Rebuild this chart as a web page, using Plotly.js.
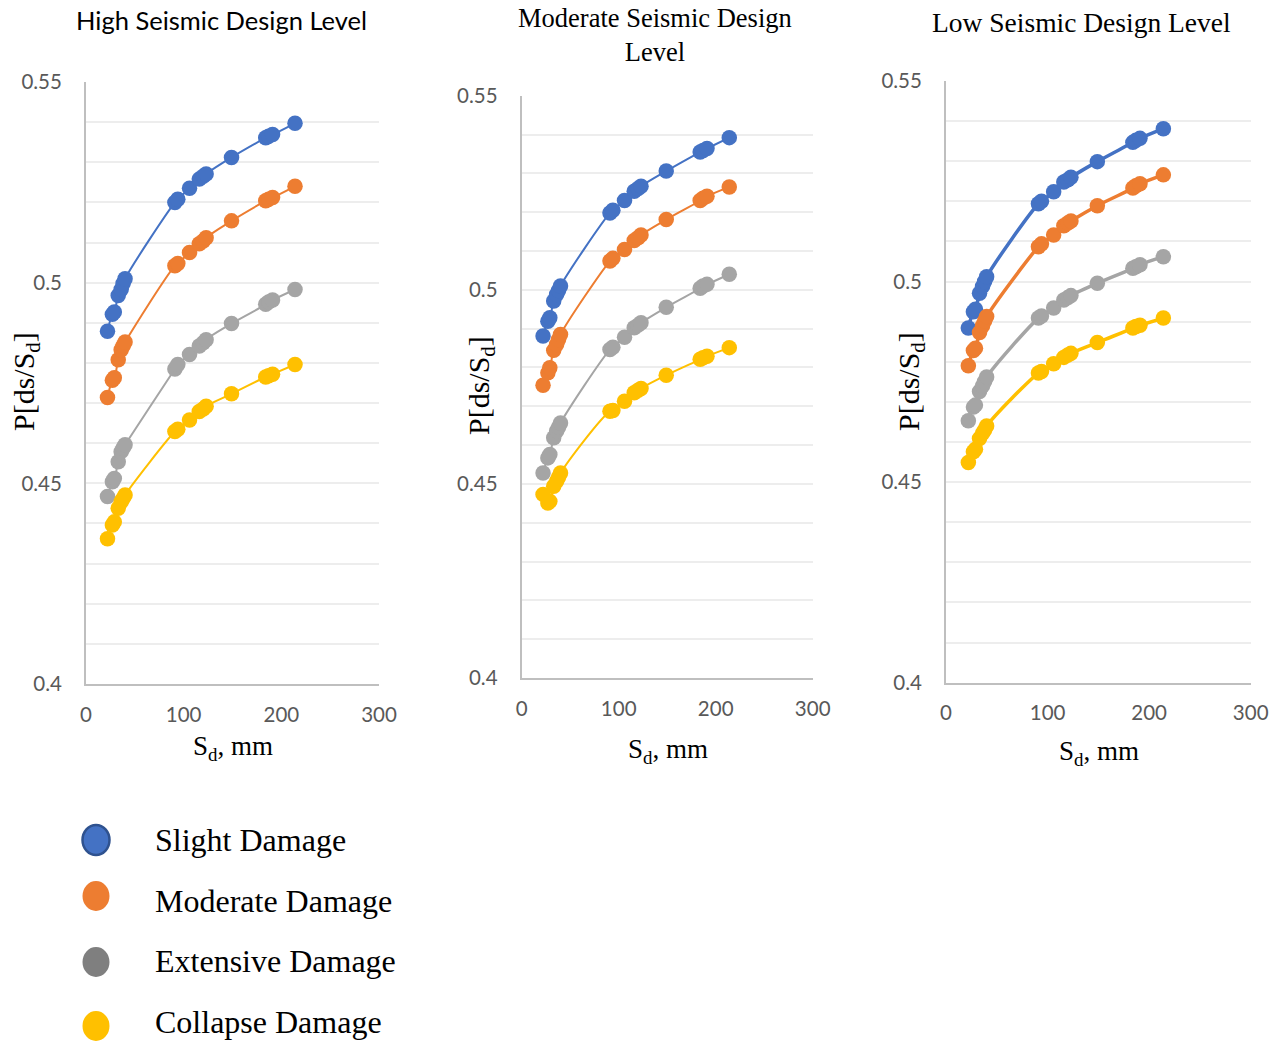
<!DOCTYPE html>
<html>
<head>
<meta charset="utf-8">
<script src="https://cdn.plot.ly/plotly-3.0.1.min.js"></script>
<style>html,body{margin:0;padding:0;background:#fff;}#chart{width:1287px;height:1042px;}</style>
</head>
<body>
<div id="chart"></div>
<script>
// ---- data ----
const sd = [22, 27, 29, 33, 36, 38, 40, 91, 94, 106, 116, 120, 123, 149, 184, 187, 191, 214];

const panelTitles = ["High Seismic Design Level", "Moderate Seismic Design<br>Level", "Low Seismic Design Level"];
const seriesNames = ["Slight Damage", "Moderate Damage", "Extensive Damage", "Collapse Damage"];
const seriesColors = ["#4472C4", "#ED7D31", "#A5A5A5", "#FFC000"];
const legendColors = ["#4472C4", "#ED7D31", "#7F7F7F", "#FFC000"];
const yTickVals = [0.4, 0.45, 0.5, 0.55];
const yTickText = ["0.4", "0.45", "0.5", "0.55"];
const xTickVals = [0, 100, 200, 300];

// High seismic design level
const highSlight    = [0.4879, 0.4921, 0.4927, 0.4968, 0.4983, 0.4998, 0.5010, 0.5200, 0.5208, 0.5235, 0.5258, 0.5265, 0.5271, 0.5312, 0.5361, 0.5365, 0.5369, 0.5397];
const highModerate  = [0.4714, 0.4757, 0.4763, 0.4808, 0.4833, 0.4843, 0.4852, 0.5042, 0.5048, 0.5075, 0.5097, 0.5104, 0.5112, 0.5154, 0.5204, 0.5208, 0.5212, 0.5240];
const highExtensive = [0.4467, 0.4504, 0.4512, 0.4554, 0.4579, 0.4588, 0.4596, 0.4785, 0.4796, 0.4821, 0.4842, 0.4850, 0.4858, 0.4898, 0.4946, 0.4952, 0.4957, 0.4983];
const highCollapse  = [0.4362, 0.4396, 0.4404, 0.4438, 0.4454, 0.4462, 0.4471, 0.4629, 0.4635, 0.4658, 0.4679, 0.4685, 0.4692, 0.4723, 0.4765, 0.4768, 0.4772, 0.4796];

// Moderate seismic design level
const modSlight    = [0.4881, 0.4919, 0.4928, 0.4971, 0.4988, 0.4998, 0.5010, 0.5198, 0.5205, 0.5230, 0.5254, 0.5261, 0.5267, 0.5306, 0.5355, 0.5359, 0.5364, 0.5392];
const modModerate  = [0.4754, 0.4786, 0.4799, 0.4844, 0.4859, 0.4872, 0.4885, 0.5074, 0.5081, 0.5104, 0.5127, 0.5134, 0.5141, 0.5181, 0.5230, 0.5236, 0.5241, 0.5265];
const modExtensive = [0.4528, 0.4567, 0.4576, 0.4619, 0.4636, 0.4646, 0.4657, 0.4846, 0.4852, 0.4878, 0.4902, 0.4909, 0.4915, 0.4955, 0.5004, 0.5010, 0.5014, 0.5040];
const modCollapse  = [0.4473, 0.4451, 0.4455, 0.4494, 0.4507, 0.4517, 0.4528, 0.4687, 0.4689, 0.4713, 0.4735, 0.4741, 0.4746, 0.4780, 0.4821, 0.4825, 0.4829, 0.4851];

// Low seismic design level
const lowSlight    = [0.4884, 0.4925, 0.4931, 0.4971, 0.4988, 0.5000, 0.5012, 0.5194, 0.5200, 0.5224, 0.5248, 0.5254, 0.5260, 0.5299, 0.5347, 0.5352, 0.5357, 0.5381];
const lowModerate  = [0.4790, 0.4828, 0.4834, 0.4873, 0.4890, 0.4902, 0.4913, 0.5087, 0.5094, 0.5116, 0.5139, 0.5146, 0.5151, 0.5189, 0.5233, 0.5239, 0.5244, 0.5266];
const lowExtensive = [0.4653, 0.4687, 0.4692, 0.4726, 0.4740, 0.4751, 0.4762, 0.4909, 0.4914, 0.4934, 0.4954, 0.4960, 0.4965, 0.4996, 0.5033, 0.5037, 0.5042, 0.5062];
const lowCollapse  = [0.4549, 0.4576, 0.4582, 0.4609, 0.4622, 0.4630, 0.4640, 0.4772, 0.4776, 0.4795, 0.4811, 0.4817, 0.4821, 0.4848, 0.4884, 0.4888, 0.4891, 0.4909];

const panels = [
  [highSlight, highModerate, highExtensive, highCollapse],
  [modSlight, modModerate, modExtensive, modCollapse],
  [lowSlight, lowModerate, lowExtensive, lowCollapse]
];

// ---- layout helpers (pixel -> paper) ----
const W = 1287, H = 1042;
const px = v => v / W;
const py = v => 1 - v / H;

const boxes = [
  {l: 86, r: 379, t: 82, b: 684, lw: 2},
  {l: 521.7, r: 812.7, t: 95.7, b: 678, lw: 2},
  {l: 946, r: 1250.7, t: 81, b: 682.7, lw: 3.5}
];

const traces = [];
panels.forEach((series, p) => {
  const ax = p === 0 ? '' : String(p + 1);
  series.forEach((ys, s) => {
    traces.push({
      x: sd, y: ys, type: 'scatter', mode: 'lines+markers',
      name: seriesNames[s], showlegend: false,
      xaxis: 'x' + ax, yaxis: 'y' + ax,
      line: {color: seriesColors[s], width: boxes[p].lw, shape: 'spline', smoothing: 1.3},
      marker: {color: seriesColors[s], size: 15.5}
    });
  });
});

const tickFont = {family: 'Lato, "Open Sans", sans-serif', size: 20.5, color: '#595959'};
const layout = {
  width: W, height: H,
  margin: {l: 0, r: 0, t: 0, b: 0},
  paper_bgcolor: '#fff', plot_bgcolor: '#fff',
  showlegend: false,
  annotations: [], shapes: []
};

boxes.forEach((b, p) => {
  const ax = p === 0 ? '' : String(p + 1);
  layout['xaxis' + ax] = {
    domain: [px(b.l), px(b.r)], range: [0, 300], anchor: 'y' + ax,
    tickvals: xTickVals, showgrid: false, zeroline: false,
    showline: true, linecolor: '#BFBFBF', linewidth: 2, ticks: '',
    tickfont: tickFont, ticklabelstandoff: 11, fixedrange: true
  };
  layout['yaxis' + ax] = {
    domain: [py(b.b), py(b.t)], range: [0.4, 0.55], anchor: 'x' + ax,
    tickvals: yTickVals, ticktext: yTickText,
    showgrid: true, gridcolor: '#EDEDED', gridwidth: 2, zeroline: false,
    minor: {dtick: 0.01, tick0: 0.4, showgrid: true, gridcolor: '#EDEDED', gridwidth: 2, ticks: ''},
    showline: true, linecolor: '#BFBFBF', linewidth: 2, ticks: '',
    tickfont: tickFont, ticklabelstandoff: 18, fixedrange: true
  };
});

const serif = '"Liberation Serif", "Times New Roman", serif';
const addText = (text, x, y, size, family, extra) => {
  layout.annotations.push(Object.assign({
    text: text, x: px(x), y: py(y), xref: 'paper', yref: 'paper',
    showarrow: false, xanchor: 'center', yanchor: 'middle',
    font: {family: family, size: size, color: '#000'}
  }, extra || {}));
};

// panel titles
addText(panelTitles[0], 221, 20, 25.5, 'Lato, "Open Sans", sans-serif');
addText(panelTitles[1], 655, 35, 26.5, serif);
addText(panelTitles[2], 1081, 23, 27.5, serif);

// axis titles
const xTitle = 'S<sub>d</sub>, mm';
const yTitle = 'P[ds/S<sub>d</sub>]';
addText(xTitle, 233, 748, 27, serif);
addText(xTitle, 668, 751, 27, serif);
addText(xTitle, 1099, 753, 27, serif);
addText(yTitle, 26, 382, 30, serif, {textangle: -90});
addText(yTitle, 481, 386, 30, serif, {textangle: -90});
addText(yTitle, 911, 382, 30, serif, {textangle: -90});

// legend
const legendY = [840, 896, 962, 1026];
const textY = [840, 901, 961, 1022];
seriesNames.forEach((n, i) => {
  layout.shapes.push({
    type: 'circle', xref: 'paper', yref: 'paper',
    x0: px(82.5), x1: px(109.5), y0: py(legendY[i] + 15), y1: py(legendY[i] - 15),
    fillcolor: legendColors[i],
    line: {color: i === 0 ? '#2F528F' : legendColors[i], width: i === 0 ? 2.5 : 0}
  });
  addText(n, 153, textY[i], 32, serif, {xanchor: 'left'});
});

Plotly.newPlot('chart', traces, layout, {displayModeBar: false, staticPlot: true});
</script>
</body>
</html>
